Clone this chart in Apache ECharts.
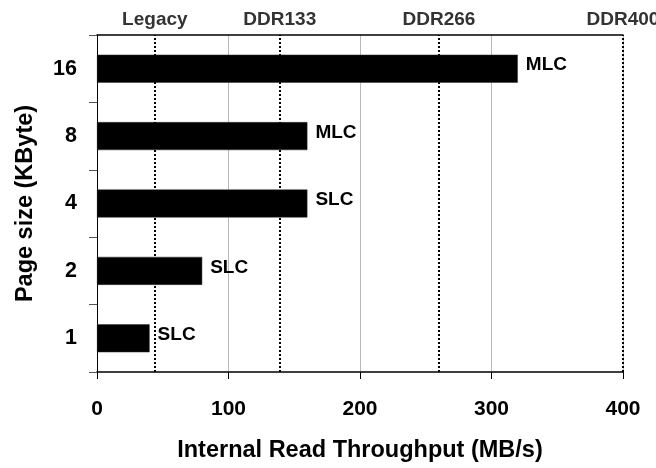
<!DOCTYPE html>
<html>
<head>
<meta charset="utf-8">
<script src="https://cdn.jsdelivr.net/npm/echarts@6/dist/echarts.min.js"></script>
<style>
  html, body { margin: 0; padding: 0; background: #fff; }
  #chart { width: 656px; height: 468px; }
</style>
</head>
<body>
<div id="chart"></div>
<script>
// Page sizes (bottom to top) and internal read throughput per page size
const pageSizes = ['1', '2', '4', '8', '16'];
const throughput = [40, 80, 160, 160, 320];
const cellType = ['SLC', 'SLC', 'SLC', 'MLC', 'MLC'];

// Host interface reference speeds (MB/s)
const interfaceNames = ['Legacy', 'DDR133', 'DDR266', 'DDR400'];
const interfaceSpeeds = [44, 139, 260, 400];

const xTicks = [0, 100, 200, 300, 400];

const font = '"Liberation Sans", Arial, sans-serif';

const chart = echarts.init(document.getElementById('chart'), null, { renderer: 'canvas' });

chart.setOption({
  animation: false,
  backgroundColor: '#fff',
  grid: { left: 97, right: 33, top: 35, bottom: 96, containLabel: false, outerBoundsMode: 'none' },
  xAxis: [{
    type: 'value',
    min: xTicks[0],
    max: xTicks[xTicks.length - 1],
    interval: 100,
    name: 'Internal Read Throughput (MB/s)',
    nameLocation: 'middle',
    nameGap: 67,
    nameTextStyle: { fontFamily: font, fontWeight: 'bold', fontSize: 23.5, color: '#000' },
    axisLine: { show: true, lineStyle: { color: '#000', width: 1.5 } },
    axisTick: { show: true, length: 7, lineStyle: { color: '#000', width: 1 } },
    axisLabel: { fontFamily: font, fontWeight: 'bold', fontSize: 21, color: '#000', margin: 27 },
    splitLine: { show: true, lineStyle: { color: '#b8b8b8', width: 1 } }
  }, {
    type: 'value',
    position: 'top',
    min: xTicks[0],
    max: xTicks[xTicks.length - 1],
    interval: 100,
    axisLine: { show: true, lineStyle: { color: '#000', width: 1.5 } },
    axisTick: { show: false },
    axisLabel: { show: false },
    splitLine: { show: false }
  }],
  yAxis: {
    type: 'category',
    data: pageSizes,
    name: 'Page size (KByte)',
    nameLocation: 'middle',
    nameGap: 59,
    nameRotate: 90,
    nameTextStyle: { fontFamily: font, fontWeight: 'bold', fontSize: 23.5, color: '#000' },
    axisLine: { show: true, lineStyle: { color: '#000', width: 1 } },
    axisTick: { show: true, length: 8, lineStyle: { color: '#555', width: 1 } },
    axisLabel: { fontFamily: font, fontWeight: 'bold', fontSize: 21.5, color: '#000', margin: 20 },
    splitLine: { show: false }
  },
  series: [{
    type: 'bar',
    xAxisIndex: 0,
    data: throughput.map((v, i) => ({ value: v, label: { formatter: cellType[i] } })),
    barWidth: 28,
    itemStyle: { color: '#000', borderColor: '#333', borderWidth: 0.5 },
    label: {
      show: true,
      position: 'right',
      distance: 8,
      offset: [0, -3.5],
      fontFamily: font,
      fontWeight: 'bold',
      fontSize: 19,
      color: '#000'
    },
    markLine: {
      silent: true,
      symbol: 'none',
      lineStyle: { color: '#000', type: [2, 2], width: 2 },
      label: {
        show: true,
        position: 'end',
        distance: 6,
        formatter: '{b}',
        fontFamily: font,
        fontWeight: 'bold',
        fontSize: 19,
        color: '#333'
      },
      data: interfaceSpeeds.map((v, i) => ({ name: interfaceNames[i], xAxis: v }))
    }
  }]
});
</script>
</body>
</html>
